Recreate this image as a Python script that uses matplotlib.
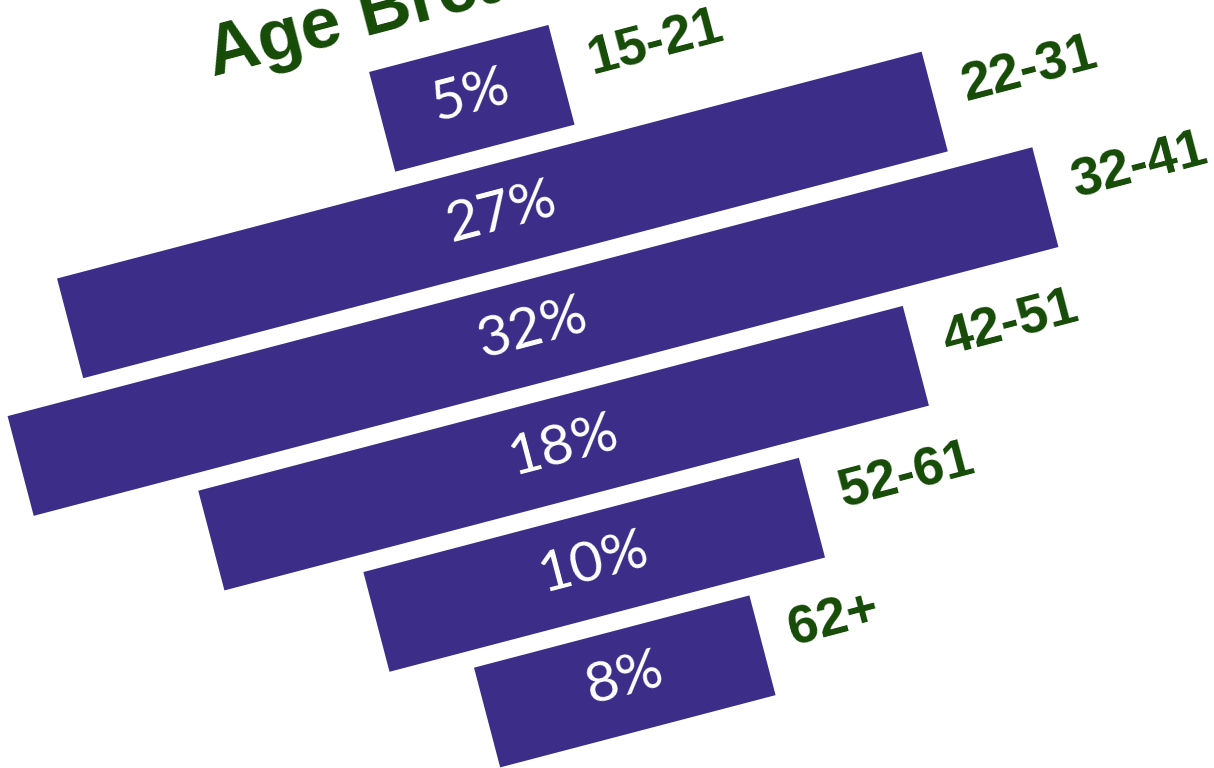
import matplotlib.pyplot as plt
from matplotlib.transforms import Affine2D

# data
age_groups = ["15-21", "22-31", "32-41", "42-51", "52-61", "62+"]
share_labels = ["5%", "27%", "32%", "18%", "10%", "8%"]
bar_lengths = [5.6, 27.0, 32.0, 22.0, 13.6, 8.6]
title = "Age Breakdown"

angle = 14.7
bar_color = "#3c2d89"
green = "#154b07"

fig = plt.figure(figsize=(12.14, 7.68), dpi=100)
ax = fig.add_axes([0, 0, 1, 1])
ax.set_xlim(-16.1, 20.57)
ax.set_ylim(5.62, -0.75)
ax.axis("off")

# whole chart is tilted around the middle of the widest bar
cx, cy = ax.transData.transform((0, 2))
rot = ax.transData + Affine2D().rotate_deg_around(cx, cy, angle)

y = list(range(len(age_groups)))
lefts = [-v / 2 for v in bar_lengths]
bars = ax.barh(y, bar_lengths, left=lefts, height=0.855, color=bar_color)
for b in bars:
    b.set_transform(rot)

for i, (grp, lab, v) in enumerate(zip(age_groups, share_labels, bar_lengths)):
    ax.text(0, i - 0.02, lab, transform=rot, rotation=angle, rotation_mode="anchor",
            ha="center", va="center", color="white", fontsize=41, family="Lato")
    ax.text(v / 2 + 0.9, i - 0.05, grp, transform=rot, rotation=angle,
            rotation_mode="anchor", ha="left", va="center", color=green,
            fontsize=39, fontweight="bold", family="Liberation Sans")

ax.text(-7.4, -0.716, title, transform=rot, rotation=angle, rotation_mode="anchor",
        ha="left", va="baseline", color=green, fontsize=52, fontweight="bold",
        family="Liberation Sans")

fig.savefig("out.png", dpi=100)
